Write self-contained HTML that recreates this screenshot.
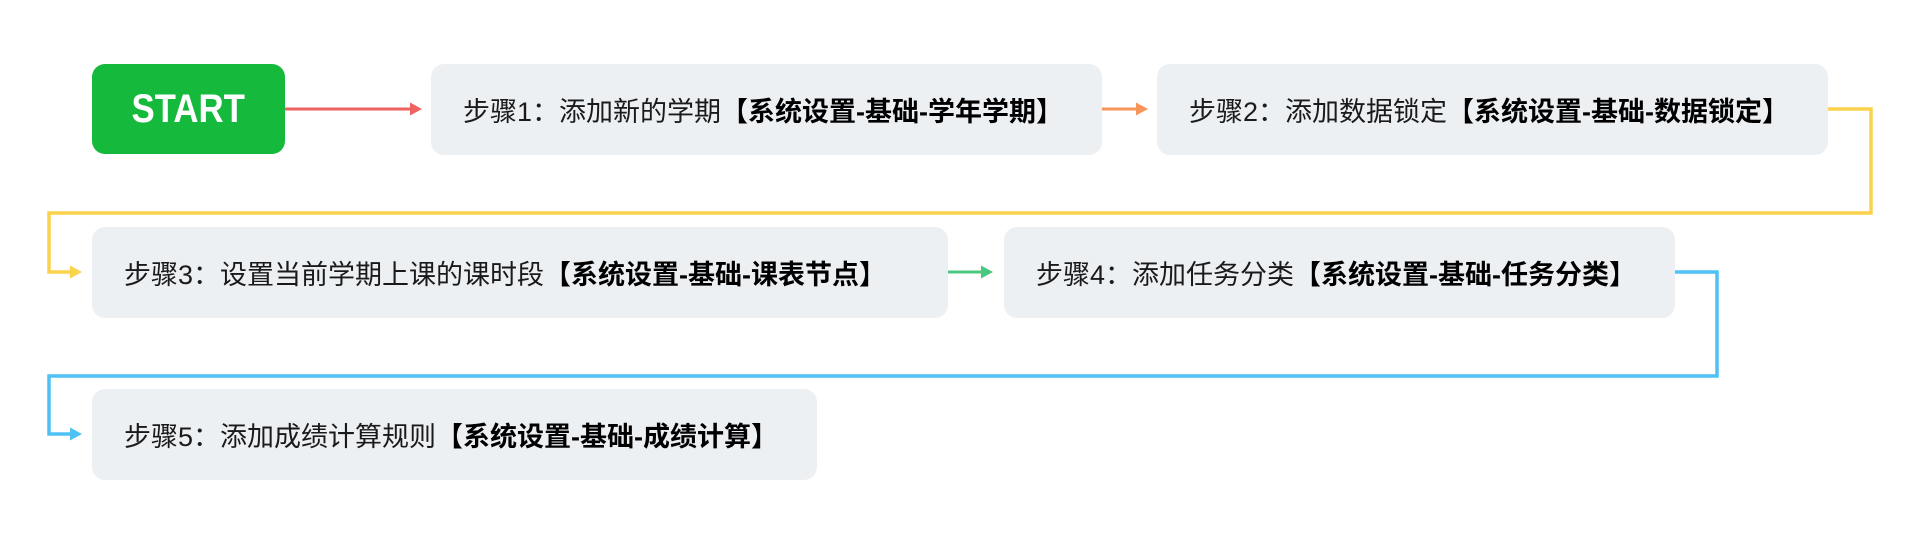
<!DOCTYPE html>
<html>
<head>
<meta charset="utf-8">
<style>
  html, body { margin:0; padding:0; background:#ffffff; }
  body { width:1920px; height:542px; position:relative; overflow:hidden;
         font-family:"Liberation Sans","Noto Sans CJK SC",sans-serif; }
  .box { position:absolute; background:#edf0f3; border-radius:13px; height:91px;
         display:flex; align-items:center; box-sizing:border-box; padding-left:32px;
         font-size:27px; color:#1a1a1a; white-space:nowrap; }
  .box b { font-weight:700; color:#000; }
  .start { position:absolute; left:92px; top:64px; width:193px; height:90px;
           background:#15b93c; border-radius:13px; display:flex; align-items:center;
           justify-content:center; }
  .start span { color:#fff; font-weight:700; font-size:40px; display:inline-block;
                transform:scaleX(0.87); letter-spacing:0px; }
  svg { position:absolute; left:0; top:0; }
</style>
</head>
<body>
<svg width="1920" height="542" viewBox="0 0 1920 542">
  <!-- red -->
  <line x1="285" y1="109" x2="411" y2="109" stroke="#ef6262" stroke-width="3"/>
  <polygon points="422,109 410,102.5 410,115.5" fill="#ef6262"/>
  <!-- orange -->
  <line x1="1102" y1="109" x2="1137" y2="109" stroke="#f7955b" stroke-width="3"/>
  <polygon points="1148,109 1136,102.5 1136,115.5" fill="#f7955b"/>
  <!-- yellow -->
  <polyline points="1828,109 1871,109 1871,213 49,213 49,272 71,272" fill="none" stroke="#fbd24e" stroke-width="3.5"/>
  <polygon points="82,272 70,265.5 70,278.5" fill="#fbd24e"/>
  <!-- green -->
  <line x1="948" y1="272" x2="982" y2="272" stroke="#4bc880" stroke-width="3"/>
  <polygon points="993,272 981,265.5 981,278.5" fill="#4bc880"/>
  <!-- blue -->
  <polyline points="1675,272 1717,272 1717,376 49,376 49,434 71,434" fill="none" stroke="#4ec1f3" stroke-width="3.5"/>
  <polygon points="82,434 70,427.5 70,440.5" fill="#4ec1f3"/>
</svg>

<div class="start"><span>START</span></div>

<div class="box" style="left:431px; top:64px; width:671px;">步骤1：添加新的学期<b>【系统设置-基础-学年学期】</b></div>
<div class="box" style="left:1157px; top:64px; width:671px;">步骤2：添加数据锁定<b>【系统设置-基础-数据锁定】</b></div>
<div class="box" style="left:92px; top:227px; width:856px;">步骤3：设置当前学期上课的课时段<b>【系统设置-基础-课表节点】</b></div>
<div class="box" style="left:1004px; top:227px; width:671px;">步骤4：添加任务分类<b>【系统设置-基础-任务分类】</b></div>
<div class="box" style="left:92px; top:389px; width:725px;">步骤5：添加成绩计算规则<b>【系统设置-基础-成绩计算】</b></div>
</body>
</html>
